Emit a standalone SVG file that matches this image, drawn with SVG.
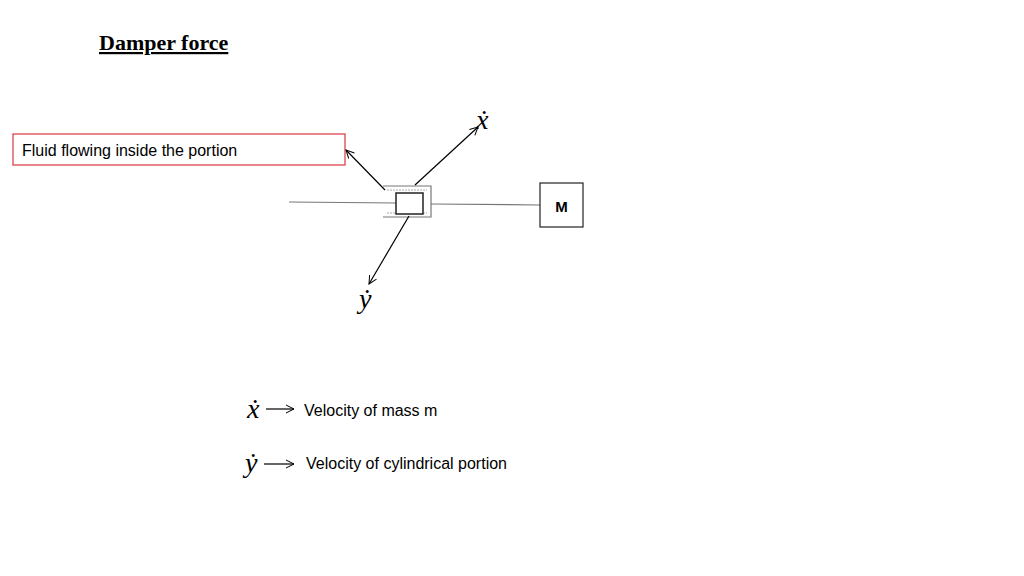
<svg xmlns="http://www.w3.org/2000/svg" width="1024" height="576" viewBox="0 0 1024 576">
<defs>
<marker id="ah" markerWidth="10" markerHeight="10" refX="9" refY="5" orient="auto" markerUnits="userSpaceOnUse"><path d="M1,1 L9,5 L1,9" fill="none" stroke="#000" stroke-width="1"/></marker>
</defs>
<style>
.s{font-family:"Liberation Sans",Arial,sans-serif;font-size:16px;fill:#000}
.m{font-family:"Liberation Serif","Times New Roman",serif;font-style:italic;font-size:28px;fill:#000}
.c{stroke:#000;stroke-width:1.2;fill:none}
</style>
<rect width="1024" height="576" fill="#fff"/>
<text x="99" y="50" font-family="Liberation Serif,serif" font-weight="bold" font-size="22" text-decoration="underline">Damper force</text>
<g id="label-box"><rect x="13" y="134" width="332" height="31" fill="#fff" stroke="#d9363e" stroke-width="1.2"/><text class="s" x="22" y="156">Fluid flowing inside the portion</text></g>
<g id="damper">
<line x1="289" y1="202" x2="396" y2="203" stroke="#777" stroke-width="1.2"/>
<path d="M383,186 H431 V217 H383" fill="none" stroke="#777" stroke-width="1.2"/>
<line x1="387" y1="190" x2="427" y2="190" stroke="#aaa" stroke-dasharray="2,1"/>
<line x1="387" y1="213" x2="427" y2="213" stroke="#aaa" stroke-dasharray="2,1"/>
<rect x="396" y="193" width="27" height="21" fill="#fff" stroke="#222" stroke-width="1.5"/>
<line x1="431" y1="204" x2="540" y2="205" stroke="#777" stroke-width="1.2"/>
</g>
<g id="mass"><rect x="540" y="183" width="43" height="44" fill="#fff" stroke="#222" stroke-width="1.2"/><text x="561.5" y="212" text-anchor="middle" font-family="Liberation Sans,sans-serif" font-weight="bold" font-size="15">M</text></g>
<g id="connectors">
<line class="c" x1="385" y1="190" x2="346" y2="150" marker-end="url(#ah)"/>
<line class="c" x1="415" y1="185" x2="478" y2="127" marker-end="url(#ah)"/>
<line class="c" x1="409" y1="216" x2="369" y2="284" marker-end="url(#ah)"/>
<line class="c" x1="266" y1="409" x2="294" y2="409" marker-end="url(#ah)"/>
<line class="c" x1="264" y1="464" x2="294" y2="464" marker-end="url(#ah)"/>
</g>
<text class="m" x="476" y="129">ẋ</text>
<text class="m" x="359" y="308">ẏ</text>
<text class="m" x="247" y="418">ẋ</text>
<text class="m" x="245" y="472">ẏ</text>
<text class="s" x="304" y="416">Velocity of mass m</text>
<text class="s" x="306" y="469">Velocity of cylindrical portion</text>
</svg>
